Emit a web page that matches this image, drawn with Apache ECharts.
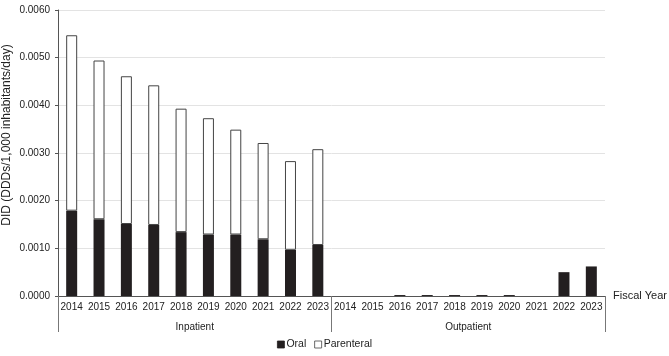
<!DOCTYPE html>
<html>
<head>
<meta charset="utf-8">
<script src="https://cdn.jsdelivr.net/npm/echarts@6/dist/echarts.min.js"></script>
<style>
  html, body { margin: 0; padding: 0; background: #fff; }
  #main { width: 669px; height: 356px; }
</style>
</head>
<body>
<div id="main"></div>
<script>
// data
var years = ['2014', '2015', '2016', '2017', '2018', '2019', '2020', '2021', '2022', '2023'];
var groups = ['Inpatient', 'Outpatient'];
var oralInpatient = [0.00179, 0.00161, 0.00151, 0.00149, 0.00134, 0.00129, 0.00129, 0.00119, 0.00097, 0.00107];
var parenteralInpatient = [0.00368, 0.00333, 0.00310, 0.00293, 0.00259, 0.00244, 0.00220, 0.00202, 0.00186, 0.00201];
var oralOutpatient = [0, 0, 0.00002, 0.00002, 0.00002, 0.00002, 0.00002, 0, 0.00050, 0.00062];
var parenteralOutpatient = [0, 0, 0, 0, 0, 0, 0, 0, 0, 0];

var categories = years.concat(years);
// zero values are left out so that no empty outlined bar is drawn
function noZero(arr) {
  return arr.map(function (v) { return v === 0 ? null : v; });
}
var oral = noZero(oralInpatient.concat(oralOutpatient));
var parenteral = noZero(parenteralInpatient.concat(parenteralOutpatient));

var font = 'Liberation Sans, Arial, sans-serif';
var myChart = echarts.init(document.getElementById('main'));

var option = {
  animation: false,
  textStyle: { fontFamily: font },
  grid: { top: 10, left: 58, right: 64, bottom: 60, containLabel: false, outerBoundsMode: 'none' },
  legend: {
    data: ['Oral', 'Parenteral'],
    left: 272,
    top: 334,
    icon: 'rect',
    itemWidth: 7,
    itemHeight: 7,
    itemGap: 8,
    itemStyle: { borderWidth: 0.8 },
    textStyle: { fontSize: 10.5, color: '#222', fontFamily: font, padding: [0, 0, 0, -3] }
  },
  // y axis title sits a bit above the middle in the reference
  graphic: [
    {
      type: 'text',
      x: 1,
      y: 135,
      rotation: Math.PI / 2,
      style: {
        text: 'DID (DDDs/1,000 inhabitants/day)',
        fontSize: 12,
        fontFamily: font,
        fill: '#222',
        align: 'center',
        verticalAlign: 'top'
      }
    }
  ],
  xAxis: [
    {
      type: 'category',
      data: categories,
      name: 'Fiscal Year',
      nameLocation: 'end',
      nameGap: 8,
      nameTextStyle: { fontSize: 11, color: '#222', fontFamily: font },
      axisLine: { show: true, lineStyle: { color: '#555', width: 1 } },
      axisTick: {
        show: true,
        length: 36,
        interval: function (i) { return i % 10 === 0; },
        lineStyle: { color: '#777' }
      },
      axisLabel: { interval: 0, fontSize: 10, color: '#222', margin: 6, fontFamily: font }
    },
    {
      type: 'category',
      data: groups,
      position: 'bottom',
      offset: 18,
      axisLine: { show: false },
      axisTick: { show: false },
      axisLabel: { fontSize: 10, color: '#222', fontFamily: font }
    }
  ],
  yAxis: {
    type: 'value',
    min: 0,
    max: 0.006,
    interval: 0.001,
    axisLine: { show: true, lineStyle: { color: '#555' } },
    axisTick: { show: true, length: 3, lineStyle: { color: '#555' } },
    axisLabel: {
      fontSize: 10,
      color: '#222',
      margin: 8,
      fontFamily: font,
      formatter: function (v) { return v.toFixed(4); }
    },
    splitLine: { show: true, lineStyle: { color: '#e3e3e3' } }
  },
  series: [
    {
      name: 'Oral',
      type: 'bar',
      stack: 'did',
      data: oral,
      barWidth: 11,
      itemStyle: { color: '#231f20', borderColor: '#231f20', borderWidth: 0 }
    },
    {
      name: 'Parenteral',
      type: 'bar',
      stack: 'did',
      data: parenteral,
      barWidth: 11,
      itemStyle: { color: '#ffffff', borderColor: '#444', borderWidth: 1 }
    }
  ]
};

myChart.setOption(option);
</script>
</body>
</html>
